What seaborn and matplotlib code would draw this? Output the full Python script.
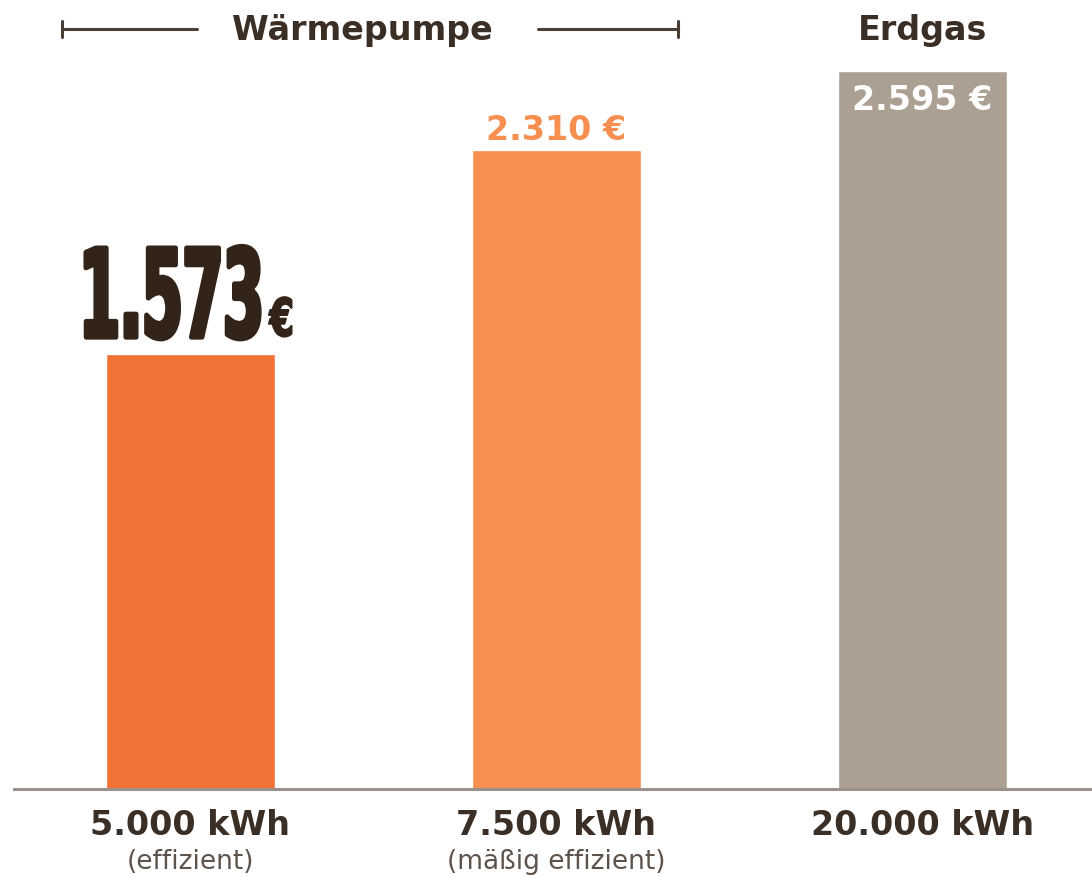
import seaborn as sns
import matplotlib.pyplot as plt
from matplotlib.patheffects import AbstractPathEffect
from matplotlib.transforms import Affine2D

# Daten
kategorien = ["5.000 kWh", "7.500 kWh", "20.000 kWh"]
hinweise = ["(effizient)", "(mäßig effizient)", ""]
kosten = [1573, 2310, 2595]
farben = ["#f37337", "#f68f50", "#aca093"]

dunkel = "#3a2e25"
grau = "#5d534b"


# hohe, schmale Darstellung fuer die grosse Zahl (Streckung nach oben ab Grundlinie)
class Hoch(AbstractPathEffect):
    def __init__(self, sy=2.0, lw=0):
        super().__init__()
        self.sy = sy
        self.lw = lw

    def draw_path(self, renderer, gc, tpath, affine, rgbFace=None):
        y0 = affine.get_matrix()[1, 2]
        stretch = Affine2D().translate(0, -y0).scale(1, self.sy).translate(0, y0)
        gc0 = renderer.new_gc()
        gc0.copy_properties(gc)
        if self.lw:
            gc0.set_linewidth(self.lw)
            gc0.set_foreground(rgbFace)
        renderer.draw_path(gc0, tpath, affine + stretch, rgbFace)
        gc0.restore()


sns.set_style("white")
plt.rcParams["font.family"] = ["DejaVu Sans"]

fig = plt.figure(figsize=(10.92, 8.78), dpi=100)
ax = fig.add_axes([14 / 1092, 88 / 878, 1078 / 1092, 790 / 878])

sns.barplot(x=kategorien, y=kosten, hue=kategorien, palette=farben,
            width=0.46, saturation=1, legend=False, ax=ax)

ax.set_xlim(-0.482, 2.463)
ax.set_ylim(0, 2856)
ax.set_xlabel("")
ax.set_ylabel("")
ax.set_yticks([])
for s in ["left", "right", "top"]:
    ax.spines[s].set_visible(False)
ax.spines["bottom"].set_color("#9b918a")
ax.spines["bottom"].set_linewidth(2.2)

ax.tick_params(axis="x", length=0, pad=14, labelsize=24, labelcolor=dunkel)
for lab in ax.get_xticklabels():
    lab.set_fontweight("bold")

xt = ax.get_xaxis_transform()
for i, h in enumerate(hinweise):
    ax.text(i, -0.091, h, transform=xt, ha="center", va="center",
            fontsize=19, color=grau)

# Werte
ax.annotate("1.573", xy=(0, kosten[0]), xytext=(-80, 12), textcoords="offset points",
            ha="left", va="baseline", fontsize=42, fontweight="bold", color="#33241a",
            path_effects=[Hoch(2.1, 3.5)])
ax.annotate("€", xy=(0, kosten[0]), xytext=(57, 13), textcoords="offset points",
            ha="left", va="baseline", fontsize=25, fontweight="bold", color="#33241a",
            path_effects=[Hoch(1.5, 1.5)])
ax.annotate("2.310 €", xy=(1, kosten[1]), xytext=(0, 8), textcoords="offset points",
            ha="center", va="baseline", fontsize=24, fontweight="bold", color=farben[1])
ax.annotate("2.595 €", xy=(2, kosten[2]), xytext=(0, -27), textcoords="offset points",
            ha="center", va="baseline", fontsize=24, fontweight="bold", color="white")

# Kopfzeile
ax.text(0.47, 0.962, "Wärmepumpe", transform=xt, ha="center", va="center",
        fontsize=24, fontweight="bold", color=dunkel)
ax.text(2, 0.962, "Erdgas", transform=xt, ha="center", va="center",
        fontsize=24, fontweight="bold", color=dunkel)
linie = dict(transform=xt, color="#4a3f35", lw=2.2, clip_on=False)
ax.plot([-0.351, 0.018], [0.962, 0.962], **linie)
ax.plot([-0.351, -0.351], [0.952, 0.972], **linie)
ax.plot([0.949, 1.332], [0.962, 0.962], **linie)
ax.plot([1.332, 1.332], [0.952, 0.972], **linie)

fig.savefig("out.png", dpi=100)
